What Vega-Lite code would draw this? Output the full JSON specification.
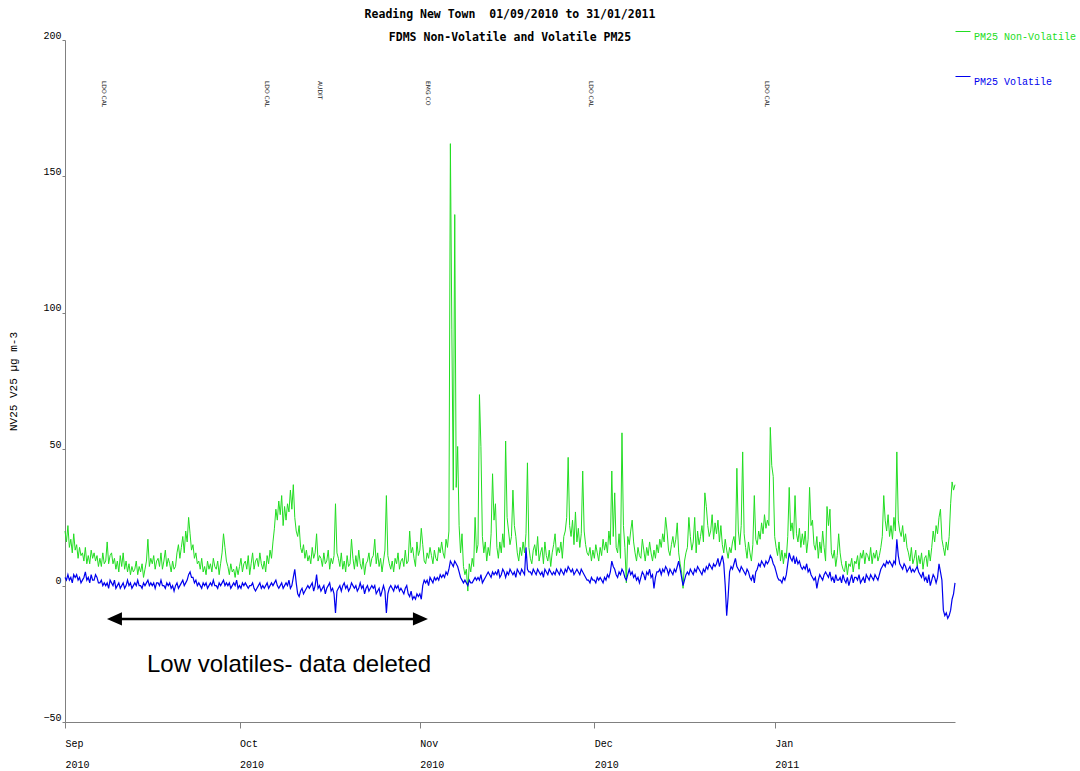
{
"$schema":"https://vega.github.io/schema/vega-lite/v6.json",
"width":890,"height":682,
"autosize":{"type":"none"},
"padding":{"left":65,"top":40,"right":125,"bottom":49},
"background":"white",
"config":{"view":{"stroke":null},"font":"Liberation Mono"},
"title":{"text":"Reading New Town\u00a0 01/09/2010 to 31/01/2011","subtitle":"FDMS Non-Volatile and Volatile PM25","anchor":"middle","frame":"group","font":"DejaVu Sans Mono","fontSize":11.5,"fontWeight":"bold","color":"#000000","subtitleFont":"DejaVu Sans Mono","subtitleFontSize":11.5,"subtitleFontWeight":"bold","subtitleColor":"#000000","subtitlePadding":12,"offset":-20},
"datasets":{
"pm":[
{"d":0,"n":20,"v":3},{"d":0.25,"n":16,"v":2},{"d":0.5,"n":22,"v":4},{"d":0.75,"n":14,"v":2},
{"d":1,"n":17,"v":3},{"d":1.25,"n":12,"v":1},{"d":1.5,"n":19,"v":4},{"d":1.75,"n":13,"v":3},
{"d":2,"n":15,"v":4},{"d":2.25,"n":10,"v":2},{"d":2.5,"n":14,"v":3},{"d":2.75,"n":11,"v":1},
{"d":3,"n":12,"v":2},{"d":3.25,"n":9,"v":3},{"d":3.5,"n":14,"v":5},{"d":3.75,"n":8,"v":2},
{"d":4,"n":11,"v":3},{"d":4.25,"n":8,"v":1},{"d":4.5,"n":13,"v":4},{"d":4.75,"n":10,"v":2},
{"d":5,"n":12,"v":2},{"d":5.25,"n":9,"v":4},{"d":5.5,"n":11,"v":3},{"d":5.75,"n":7,"v":1},
{"d":6,"n":10,"v":1},{"d":6.25,"n":7,"v":2},{"d":6.5,"n":12,"v":0},{"d":6.75,"n":8,"v":1},
{"d":7,"n":9,"v":0},{"d":7.25,"n":16,"v":1},{"d":7.5,"n":8,"v":-1},{"d":7.75,"n":11,"v":2},
{"d":8,"n":12,"v":1},{"d":8.25,"n":8,"v":0},{"d":8.5,"n":10,"v":2},{"d":8.75,"n":6,"v":-1},
{"d":9,"n":9,"v":0},{"d":9.25,"n":5,"v":1},{"d":9.5,"n":11,"v":-1},{"d":9.75,"n":7,"v":0},
{"d":10,"n":12,"v":1},{"d":10.25,"n":6,"v":-1},{"d":10.5,"n":9,"v":0},{"d":10.75,"n":5,"v":2},
{"d":11,"n":8,"v":0},{"d":11.25,"n":4,"v":1},{"d":11.5,"n":7,"v":-1},{"d":11.75,"n":5,"v":0},
{"d":12,"n":6,"v":1},{"d":12.25,"n":9,"v":0},{"d":12.5,"n":4,"v":2},{"d":12.75,"n":7,"v":0},
{"d":13,"n":5,"v":0},{"d":13.25,"n":8,"v":-1},{"d":13.5,"n":3,"v":1},{"d":13.75,"n":6,"v":0},
{"d":14,"n":9,"v":1},{"d":14.25,"n":17,"v":2},{"d":14.5,"n":7,"v":0},{"d":14.75,"n":10,"v":1},
{"d":15,"n":8,"v":0},{"d":15.25,"n":11,"v":1},{"d":15.5,"n":6,"v":-1},{"d":15.75,"n":9,"v":1},
{"d":16,"n":10,"v":1},{"d":16.25,"n":7,"v":0},{"d":16.5,"n":12,"v":2},{"d":16.75,"n":6,"v":0},
{"d":17,"n":9,"v":0},{"d":17.25,"n":13,"v":-1},{"d":17.5,"n":7,"v":1},{"d":17.75,"n":10,"v":0},
{"d":18,"n":8,"v":1},{"d":18.25,"n":5,"v":-1},{"d":18.5,"n":9,"v":0},{"d":18.75,"n":6,"v":-2},
{"d":19,"n":7,"v":0},{"d":19.25,"n":12,"v":1},{"d":19.5,"n":15,"v":-1},{"d":19.75,"n":10,"v":0},
{"d":20,"n":14,"v":1},{"d":20.25,"n":18,"v":2},{"d":20.5,"n":12,"v":0},{"d":20.75,"n":20,"v":1},
{"d":21,"n":16,"v":2},{"d":21.25,"n":25,"v":4},{"d":21.5,"n":19,"v":5},{"d":21.75,"n":13,"v":3},
{"d":22,"n":15,"v":3},{"d":22.25,"n":10,"v":1},{"d":22.5,"n":12,"v":2},{"d":22.75,"n":8,"v":0},
{"d":23,"n":9,"v":1},{"d":23.25,"n":6,"v":0},{"d":23.5,"n":10,"v":-1},{"d":23.75,"n":5,"v":1},
{"d":24,"n":7,"v":0},{"d":24.25,"n":4,"v":1},{"d":24.5,"n":9,"v":-1},{"d":24.75,"n":6,"v":0},
{"d":25,"n":8,"v":1},{"d":25.25,"n":5,"v":0},{"d":25.5,"n":10,"v":2},{"d":25.75,"n":7,"v":0},
{"d":26,"n":6,"v":0},{"d":26.25,"n":9,"v":-1},{"d":26.5,"n":4,"v":1},{"d":26.75,"n":8,"v":0},
{"d":27,"n":12,"v":1},{"d":27.25,"n":19,"v":2},{"d":27.5,"n":14,"v":0},{"d":27.75,"n":9,"v":1},
{"d":28,"n":7,"v":0},{"d":28.25,"n":4,"v":1},{"d":28.5,"n":8,"v":-1},{"d":28.75,"n":5,"v":0},
{"d":29,"n":6,"v":1},{"d":29.25,"n":3,"v":0},{"d":29.5,"n":7,"v":2},{"d":29.75,"n":4,"v":-1},
{"d":30,"n":7,"v":0},{"d":30.25,"n":10,"v":-1},{"d":30.5,"n":5,"v":1},{"d":30.75,"n":8,"v":0},
{"d":31,"n":9,"v":1},{"d":31.25,"n":6,"v":0},{"d":31.5,"n":11,"v":-1},{"d":31.75,"n":4,"v":0},
{"d":32,"n":8,"v":0},{"d":32.25,"n":12,"v":1},{"d":32.5,"n":6,"v":-1},{"d":32.75,"n":9,"v":-2},
{"d":33,"n":10,"v":-1},{"d":33.25,"n":7,"v":0},{"d":33.5,"n":12,"v":1},{"d":33.75,"n":8,"v":-1},
{"d":34,"n":6,"v":0},{"d":34.25,"n":9,"v":-1},{"d":34.5,"n":5,"v":0},{"d":34.75,"n":11,"v":1},
{"d":35,"n":8,"v":-1},{"d":35.25,"n":13,"v":0},{"d":35.5,"n":10,"v":1},{"d":35.75,"n":16,"v":0},
{"d":36,"n":21,"v":1},{"d":36.25,"n":28,"v":2},{"d":36.5,"n":24,"v":0},{"d":36.75,"n":31,"v":-1},
{"d":37,"n":26,"v":0},{"d":37.25,"n":33,"v":1},{"d":37.5,"n":22,"v":-1},{"d":37.75,"n":29,"v":0},
{"d":38,"n":24,"v":1},{"d":38.25,"n":30,"v":0},{"d":38.5,"n":27,"v":2},{"d":38.75,"n":35,"v":-1},
{"d":39,"n":28,"v":0},{"d":39.25,"n":37,"v":3},{"d":39.5,"n":25,"v":6},{"d":39.75,"n":20,"v":1},
{"d":40,"n":18,"v":-3},{"d":40.25,"n":22,"v":-4},{"d":40.5,"n":14,"v":-2},{"d":40.75,"n":12,"v":-1},
{"d":41,"n":15,"v":-3},{"d":41.25,"n":10,"v":-2},{"d":41.5,"n":13,"v":-1},{"d":41.75,"n":9,"v":0},
{"d":42,"n":11,"v":-1},{"d":42.25,"n":8,"v":0},{"d":42.5,"n":14,"v":1},{"d":42.75,"n":10,"v":-2},
{"d":43,"n":12,"v":0},{"d":43.25,"n":19,"v":4},{"d":43.5,"n":9,"v":-1},{"d":43.75,"n":11,"v":0},
{"d":44,"n":10,"v":-2},{"d":44.25,"n":7,"v":-1},{"d":44.5,"n":12,"v":0},{"d":44.75,"n":8,"v":-3},
{"d":45,"n":9,"v":-1},{"d":45.25,"n":13,"v":0},{"d":45.5,"n":6,"v":1},{"d":45.75,"n":10,"v":-2},
{"d":46,"n":8,"v":-1},{"d":46.25,"n":11,"v":-3},{"d":46.5,"n":30,"v":-10},{"d":46.75,"n":12,"v":-2},
{"d":47,"n":10,"v":-1},{"d":47.25,"n":7,"v":0},{"d":47.5,"n":12,"v":-2},{"d":47.75,"n":6,"v":0},
{"d":48,"n":9,"v":1},{"d":48.25,"n":5,"v":-1},{"d":48.5,"n":11,"v":0},{"d":48.75,"n":7,"v":-2},
{"d":49,"n":8,"v":-1},{"d":49.25,"n":17,"v":1},{"d":49.5,"n":10,"v":0},{"d":49.75,"n":6,"v":-1},
{"d":50,"n":11,"v":0},{"d":50.25,"n":7,"v":-2},{"d":50.5,"n":13,"v":-1},{"d":50.75,"n":8,"v":1},
{"d":51,"n":6,"v":-1},{"d":51.25,"n":10,"v":0},{"d":51.5,"n":4,"v":-3},{"d":51.75,"n":8,"v":-1},
{"d":52,"n":9,"v":0},{"d":52.25,"n":12,"v":-2},{"d":52.5,"n":7,"v":-1},{"d":52.75,"n":10,"v":0},
{"d":53,"n":11,"v":-1},{"d":53.25,"n":17,"v":0},{"d":53.5,"n":8,"v":-3},{"d":53.75,"n":12,"v":-2},
{"d":54,"n":7,"v":-1},{"d":54.25,"n":10,"v":-4},{"d":54.5,"n":5,"v":-2},{"d":54.75,"n":9,"v":0},
{"d":55,"n":13,"v":-2},{"d":55.25,"n":33,"v":-10},{"d":55.5,"n":11,"v":-3},{"d":55.75,"n":8,"v":-1},
{"d":56,"n":6,"v":0},{"d":56.25,"n":9,"v":-1},{"d":56.5,"n":5,"v":-2},{"d":56.75,"n":10,"v":0},
{"d":57,"n":8,"v":-1},{"d":57.25,"n":12,"v":0},{"d":57.5,"n":6,"v":-2},{"d":57.75,"n":9,"v":-1},
{"d":58,"n":10,"v":-2},{"d":58.25,"n":7,"v":-3},{"d":58.5,"n":13,"v":-1},{"d":58.75,"n":8,"v":0},
{"d":59,"n":9,"v":-3},{"d":59.25,"n":20,"v":-4},{"d":59.5,"n":12,"v":-2},{"d":59.75,"n":14,"v":-5},
{"d":60,"n":10,"v":-4},{"d":60.25,"n":7,"v":-5},{"d":60.5,"n":16,"v":-3},{"d":60.75,"n":11,"v":-4},
{"d":61,"n":13,"v":-3},{"d":61.25,"n":21,"v":-5},{"d":61.5,"n":15,"v":0},{"d":61.75,"n":9,"v":2},
{"d":62,"n":8,"v":1},{"d":62.25,"n":12,"v":2},{"d":62.5,"n":10,"v":0},{"d":62.75,"n":14,"v":3},
{"d":63,"n":11,"v":2},{"d":63.25,"n":8,"v":1},{"d":63.5,"n":13,"v":3},{"d":63.75,"n":10,"v":2},
{"d":64,"n":9,"v":3},{"d":64.25,"n":14,"v":2},{"d":64.5,"n":12,"v":4},{"d":64.75,"n":16,"v":3},
{"d":65,"n":12,"v":4},{"d":65.25,"n":10,"v":3},{"d":65.5,"n":17,"v":5},{"d":65.75,"n":14,"v":4},
{"d":66,"n":20,"v":6},{"d":66.25,"n":162,"v":9},{"d":66.5,"n":94,"v":8},{"d":66.75,"n":35,"v":7},
{"d":67,"n":136,"v":9},{"d":67.25,"n":36,"v":8},{"d":67.5,"n":51,"v":7},{"d":67.75,"n":22,"v":5},
{"d":68,"n":12,"v":3},{"d":68.25,"n":19,"v":2},{"d":68.5,"n":7,"v":1},{"d":68.75,"n":4,"v":2},
{"d":69,"n":6,"v":1},{"d":69.25,"n":-2,"v":0},{"d":69.5,"n":8,"v":2},{"d":69.75,"n":5,"v":1},
{"d":70,"n":10,"v":1},{"d":70.25,"n":7,"v":2},{"d":70.5,"n":25,"v":3},{"d":70.75,"n":12,"v":2},
{"d":71,"n":15,"v":3},{"d":71.25,"n":70,"v":2},{"d":71.5,"n":51,"v":4},{"d":71.75,"n":18,"v":1},
{"d":72,"n":12,"v":2},{"d":72.25,"n":16,"v":3},{"d":72.5,"n":9,"v":4},{"d":72.75,"n":14,"v":5},
{"d":73,"n":11,"v":4},{"d":73.25,"n":19,"v":3},{"d":73.5,"n":41,"v":5},{"d":73.75,"n":24,"v":4},
{"d":74,"n":30,"v":5},{"d":74.25,"n":14,"v":4},{"d":74.5,"n":10,"v":6},{"d":74.75,"n":16,"v":3},
{"d":75,"n":12,"v":4},{"d":75.25,"n":19,"v":6},{"d":75.5,"n":14,"v":5},{"d":75.75,"n":53,"v":3},
{"d":76,"n":25,"v":5},{"d":76.25,"n":20,"v":4},{"d":76.5,"n":15,"v":6},{"d":76.75,"n":18,"v":5},
{"d":77,"n":35,"v":4},{"d":77.25,"n":22,"v":5},{"d":77.5,"n":18,"v":3},{"d":77.75,"n":12,"v":6},
{"d":78,"n":9,"v":5},{"d":78.25,"n":14,"v":4},{"d":78.5,"n":11,"v":6},{"d":78.75,"n":16,"v":5},
{"d":79,"n":12,"v":4},{"d":79.25,"n":19,"v":14},{"d":79.5,"n":45,"v":6},{"d":79.75,"n":14,"v":5},
{"d":80,"n":10,"v":5},{"d":80.25,"n":8,"v":4},{"d":80.5,"n":13,"v":6},{"d":80.75,"n":15,"v":5},
{"d":81,"n":11,"v":4},{"d":81.25,"n":18,"v":6},{"d":81.5,"n":9,"v":5},{"d":81.75,"n":12,"v":4},
{"d":82,"n":14,"v":5},{"d":82.25,"n":8,"v":3},{"d":82.5,"n":16,"v":6},{"d":82.75,"n":11,"v":5},
{"d":83,"n":9,"v":4},{"d":83.25,"n":13,"v":6},{"d":83.5,"n":7,"v":5},{"d":83.75,"n":12,"v":4},
{"d":84,"n":15,"v":5},{"d":84.25,"n":19,"v":4},{"d":84.5,"n":11,"v":6},{"d":84.75,"n":14,"v":5},
{"d":85,"n":12,"v":4},{"d":85.25,"n":16,"v":6},{"d":85.5,"n":10,"v":5},{"d":85.75,"n":18,"v":4},
{"d":86,"n":20,"v":6},{"d":86.25,"n":25,"v":5},{"d":86.5,"n":47,"v":7},{"d":86.75,"n":22,"v":6},
{"d":87,"n":18,"v":5},{"d":87.25,"n":24,"v":6},{"d":87.5,"n":15,"v":4},{"d":87.75,"n":27,"v":5},
{"d":88,"n":16,"v":6},{"d":88.25,"n":21,"v":5},{"d":88.5,"n":14,"v":4},{"d":88.75,"n":19,"v":6},
{"d":89,"n":42,"v":5},{"d":89.25,"n":20,"v":4},{"d":89.5,"n":15,"v":3},{"d":89.75,"n":12,"v":2},
{"d":90,"n":11,"v":2},{"d":90.25,"n":14,"v":1},{"d":90.5,"n":9,"v":3},{"d":90.75,"n":13,"v":2},
{"d":91,"n":10,"v":2},{"d":91.25,"n":15,"v":1},{"d":91.5,"n":12,"v":3},{"d":91.75,"n":9,"v":2},
{"d":92,"n":14,"v":3},{"d":92.25,"n":11,"v":2},{"d":92.5,"n":17,"v":1},{"d":92.75,"n":13,"v":3},
{"d":93,"n":16,"v":2},{"d":93.25,"n":12,"v":4},{"d":93.5,"n":20,"v":3},{"d":93.75,"n":15,"v":5},
{"d":94,"n":42,"v":9},{"d":94.25,"n":18,"v":7},{"d":94.5,"n":34,"v":6},{"d":94.75,"n":14,"v":4},
{"d":95,"n":12,"v":3},{"d":95.25,"n":19,"v":5},{"d":95.5,"n":10,"v":4},{"d":95.75,"n":56,"v":6},
{"d":96,"n":22,"v":5},{"d":96.25,"n":14,"v":3},{"d":96.5,"n":1,"v":2},{"d":96.75,"n":18,"v":4},
{"d":97,"n":15,"v":6},{"d":97.25,"n":20,"v":4},{"d":97.5,"n":24,"v":5},{"d":97.75,"n":16,"v":3},
{"d":98,"n":12,"v":4},{"d":98.25,"n":9,"v":2},{"d":98.5,"n":14,"v":3},{"d":98.75,"n":11,"v":1},
{"d":99,"n":10,"v":3},{"d":99.25,"n":17,"v":5},{"d":99.5,"n":13,"v":4},{"d":99.75,"n":9,"v":2},
{"d":100,"n":14,"v":5},{"d":100.25,"n":11,"v":4},{"d":100.5,"n":16,"v":6},{"d":100.75,"n":12,"v":3},
{"d":101,"n":9,"v":4},{"d":101.25,"n":13,"v":-1},{"d":101.5,"n":10,"v":3},{"d":101.75,"n":15,"v":5},
{"d":102,"n":12,"v":5},{"d":102.25,"n":17,"v":6},{"d":102.5,"n":14,"v":4},{"d":102.75,"n":19,"v":6},
{"d":103,"n":16,"v":5},{"d":103.25,"n":25,"v":7},{"d":103.5,"n":20,"v":6},{"d":103.75,"n":13,"v":4},
{"d":104,"n":11,"v":6},{"d":104.25,"n":15,"v":5},{"d":104.5,"n":18,"v":4},{"d":104.75,"n":14,"v":6},
{"d":105,"n":17,"v":5},{"d":105.25,"n":23,"v":7},{"d":105.5,"n":12,"v":9},{"d":105.75,"n":8,"v":6},
{"d":106,"n":5,"v":3},{"d":106.25,"n":-1,"v":0},{"d":106.5,"n":9,"v":2},{"d":106.75,"n":12,"v":4},
{"d":107,"n":14,"v":5},{"d":107.25,"n":25,"v":4},{"d":107.5,"n":18,"v":6},{"d":107.75,"n":13,"v":5},
{"d":108,"n":16,"v":4},{"d":108.25,"n":25,"v":6},{"d":108.5,"n":12,"v":5},{"d":108.75,"n":20,"v":7},
{"d":109,"n":15,"v":6},{"d":109.25,"n":18,"v":5},{"d":109.5,"n":22,"v":4},{"d":109.75,"n":16,"v":6},
{"d":110,"n":34,"v":5},{"d":110.25,"n":29,"v":7},{"d":110.5,"n":22,"v":6},{"d":110.75,"n":18,"v":8},
{"d":111,"n":20,"v":7},{"d":111.25,"n":26,"v":6},{"d":111.5,"n":17,"v":8},{"d":111.75,"n":23,"v":7},
{"d":112,"n":19,"v":8},{"d":112.25,"n":24,"v":10},{"d":112.5,"n":16,"v":7},{"d":112.75,"n":22,"v":9},
{"d":113,"n":15,"v":11},{"d":113.25,"n":12,"v":8},{"d":113.5,"n":17,"v":0},{"d":113.75,"n":13,"v":-11},
{"d":114,"n":10,"v":-4},{"d":114.25,"n":14,"v":5},{"d":114.5,"n":12,"v":7},{"d":114.75,"n":16,"v":6},
{"d":115,"n":18,"v":8},{"d":115.25,"n":13,"v":10},{"d":115.5,"n":43,"v":7},{"d":115.75,"n":20,"v":6},
{"d":116,"n":15,"v":5},{"d":116.25,"n":22,"v":7},{"d":116.5,"n":49,"v":6},{"d":116.75,"n":19,"v":5},
{"d":117,"n":14,"v":4},{"d":117.25,"n":10,"v":6},{"d":117.5,"n":16,"v":5},{"d":117.75,"n":12,"v":3},
{"d":118,"n":9,"v":2},{"d":118.25,"n":15,"v":4},{"d":118.5,"n":33,"v":1},{"d":118.75,"n":17,"v":5},
{"d":119,"n":15,"v":6},{"d":119.25,"n":20,"v":8},{"d":119.5,"n":17,"v":7},{"d":119.75,"n":23,"v":9},
{"d":120,"n":19,"v":8},{"d":120.25,"n":26,"v":7},{"d":120.5,"n":21,"v":9},{"d":120.75,"n":24,"v":8},
{"d":121,"n":22,"v":9},{"d":121.25,"n":58,"v":11},{"d":121.5,"n":44,"v":10},{"d":121.75,"n":40,"v":8},
{"d":122,"n":18,"v":7},{"d":122.25,"n":14,"v":5},{"d":122.5,"n":11,"v":3},{"d":122.75,"n":16,"v":2},
{"d":123,"n":9,"v":2},{"d":123.25,"n":13,"v":1},{"d":123.5,"n":8,"v":3},{"d":123.75,"n":12,"v":2},
{"d":124,"n":10,"v":4},{"d":124.25,"n":18,"v":8},{"d":124.5,"n":36,"v":12},{"d":124.75,"n":20,"v":10},
{"d":125,"n":23,"v":9},{"d":125.25,"n":17,"v":11},{"d":125.5,"n":33,"v":8},{"d":125.75,"n":19,"v":10},
{"d":126,"n":16,"v":8},{"d":126.25,"n":21,"v":9},{"d":126.5,"n":14,"v":7},{"d":126.75,"n":19,"v":6},
{"d":127,"n":15,"v":7},{"d":127.25,"n":20,"v":6},{"d":127.5,"n":12,"v":8},{"d":127.75,"n":17,"v":5},
{"d":128,"n":36,"v":6},{"d":128.25,"n":22,"v":4},{"d":128.5,"n":24,"v":3},{"d":128.75,"n":15,"v":2},
{"d":129,"n":13,"v":3},{"d":129.25,"n":18,"v":-1},{"d":129.5,"n":10,"v":2},{"d":129.75,"n":16,"v":4},
{"d":130,"n":12,"v":3},{"d":130.25,"n":20,"v":2},{"d":130.5,"n":14,"v":4},{"d":130.75,"n":9,"v":5},
{"d":131,"n":29,"v":4},{"d":131.25,"n":22,"v":3},{"d":131.5,"n":28,"v":5},{"d":131.75,"n":12,"v":2},
{"d":132,"n":10,"v":3},{"d":132.25,"n":13,"v":1},{"d":132.5,"n":7,"v":4},{"d":132.75,"n":11,"v":2},
{"d":133,"n":19,"v":2},{"d":133.25,"n":12,"v":3},{"d":133.5,"n":8,"v":1},{"d":133.75,"n":6,"v":4},
{"d":134,"n":5,"v":2},{"d":134.25,"n":9,"v":1},{"d":134.5,"n":4,"v":3},{"d":134.75,"n":8,"v":0},
{"d":135,"n":7,"v":2},{"d":135.25,"n":10,"v":4},{"d":135.5,"n":5,"v":1},{"d":135.75,"n":9,"v":3},
{"d":136,"n":8,"v":3},{"d":136.25,"n":11,"v":2},{"d":136.5,"n":6,"v":4},{"d":136.75,"n":12,"v":1},
{"d":137,"n":10,"v":2},{"d":137.25,"n":13,"v":3},{"d":137.5,"n":8,"v":1},{"d":137.75,"n":12,"v":4},
{"d":138,"n":11,"v":3},{"d":138.25,"n":9,"v":2},{"d":138.5,"n":14,"v":4},{"d":138.75,"n":8,"v":3},
{"d":139,"n":12,"v":2},{"d":139.25,"n":10,"v":4},{"d":139.5,"n":13,"v":3},{"d":139.75,"n":9,"v":2},
{"d":140,"n":11,"v":4},{"d":140.25,"n":14,"v":6},{"d":140.5,"n":18,"v":7},{"d":140.75,"n":33,"v":8},
{"d":141,"n":24,"v":7},{"d":141.25,"n":20,"v":9},{"d":141.5,"n":26,"v":8},{"d":141.75,"n":18,"v":9},
{"d":142,"n":22,"v":8},{"d":142.25,"n":17,"v":7},{"d":142.5,"n":25,"v":9},{"d":142.75,"n":20,"v":8},
{"d":143,"n":49,"v":17},{"d":143.25,"n":24,"v":11},{"d":143.5,"n":20,"v":8},{"d":143.75,"n":18,"v":7},
{"d":144,"n":22,"v":6},{"d":144.25,"n":16,"v":8},{"d":144.5,"n":19,"v":7},{"d":144.75,"n":14,"v":5},
{"d":145,"n":12,"v":6},{"d":145.25,"n":9,"v":7},{"d":145.5,"n":14,"v":5},{"d":145.75,"n":8,"v":6},
{"d":146,"n":10,"v":5},{"d":146.25,"n":13,"v":6},{"d":146.5,"n":7,"v":7},{"d":146.75,"n":11,"v":5},
{"d":147,"n":8,"v":4},{"d":147.25,"n":12,"v":3},{"d":147.5,"n":6,"v":5},{"d":147.75,"n":10,"v":2},
{"d":148,"n":11,"v":3},{"d":148.25,"n":7,"v":1},{"d":148.5,"n":13,"v":4},{"d":148.75,"n":9,"v":0},
{"d":149,"n":14,"v":2},{"d":149.25,"n":20,"v":4},{"d":149.5,"n":16,"v":3},{"d":149.75,"n":22,"v":1},
{"d":150,"n":19,"v":3},{"d":150.25,"n":25,"v":8},{"d":150.5,"n":28,"v":5},{"d":150.75,"n":17,"v":2},
{"d":151,"n":14,"v":-9},{"d":151.25,"n":11,"v":-11},{"d":151.5,"n":16,"v":-10},{"d":151.75,"n":13,"v":-12},
{"d":152,"n":18,"v":-11},{"d":152.25,"n":30,"v":-9},{"d":152.5,"n":38,"v":-5},{"d":152.75,"n":35,"v":-3},
{"d":153,"n":37,"v":1}
],
"events":[
{"d":6.7,"y":185,"t":"LDO CAL"},{"d":34.7,"y":185,"t":"LDO CAL"},{"d":43.8,"y":185,"t":"AUDIT"},
{"d":62.4,"y":185,"t":"EMG CO"},{"d":90.4,"y":185,"t":"LDO CAL"},{"d":120.6,"y":185,"t":"LDO CAL"}
],
"arrow":[{"a":8,"b":61.5,"y":-12.2}],
"heads":[{"d":8.5,"y":-12.2,"s":"L"},{"d":61.1,"y":-12.2,"s":"R"}],
"note":[{"d":14.1,"y":-29,"t":"Low volatiles- data deleted"}]
},
"layer":[
{"data":{"name":"pm"},"mark":{"type":"line","strokeWidth":1},
 "encoding":{
  "x":{"field":"d","type":"quantitative","scale":{"domain":[0,153],"nice":false,"zero":false},
   "axis":{"title":null,"values":[0,30,61,91,122],"labelExpr":"datum.value==0?['Sep','2010']:datum.value==30?['Oct','2010']:datum.value==61?['Nov','2010']:datum.value==91?['Dec','2010']:['Jan','2011']","labelAlign":"left","labelBaseline":"top","labelLineHeight":21,"labelPadding":10,"tickSize":6,"tickColor":"#808080","domainColor":"#808080","labelFont":"Liberation Mono","labelFontSize":10,"labelColor":"#000000","grid":false,"labelFlush":false,"labelOverlap":false}},
  "y":{"field":"n","type":"quantitative","scale":{"domain":[-50,200],"nice":false,"zero":false},
   "axis":{"title":"NV25 V25 µg m-3","values":[-50,0,50,100,150,200],"tickSize":3,"labelPadding":1,"labelBaseline":"bottom","labelFont":"Liberation Mono","labelFontSize":10,"labelColor":"#000000","grid":false,"domainColor":"#808080","tickColor":"#808080","titleFont":"Liberation Mono","titleFontSize":11,"titleFontWeight":"normal","titleColor":"#000000","titleX":-52,"titleY":341,"titleAngle":-90,"titleBaseline":"middle","titleAlign":"center","labelFlush":false}},
  "color":{"datum":"PM25 Non-Volatile","type":"nominal","scale":{"domain":["PM25 Non-Volatile","PM25 Volatile"],"range":["#22dd22","#0000ee"]},
   "legend":{"orient":"none","legendX":890,"legendY":-16.5,"title":null,"symbolType":"stroke","symbolSize":225,"symbolStrokeWidth":1,"labelFont":"Liberation Mono","labelFontSize":10,"labelOffset":3,"rowPadding":27,"labelBaseline":"top","labelLimit":300,"padding":0,
    "encode":{"labels":{"update":{"fill":{"signal":"datum.value === 'PM25 Volatile' ? '#0000ee' : '#22dd22'"}}}}}}
 }},
{"mark":{"type":"rule","strokeDash":[12,6],"color":"#333333","strokeWidth":1},"encoding":{"y":{"datum":0,"type":"quantitative"}}},
{"data":{"name":"pm"},"mark":{"type":"line","strokeWidth":1.2},
 "encoding":{
  "x":{"field":"d","type":"quantitative"},
  "y":{"field":"v","type":"quantitative","axis":{"title":"NV25 V25 µg m-3"}},
  "color":{"datum":"PM25 Volatile","type":"nominal"}
 }},
{"data":{"name":"events"},"mark":{"type":"text","angle":90,"align":"left","baseline":"middle","font":"DejaVu Sans","fontSize":6,"color":"#222222"},
 "encoding":{"x":{"field":"d","type":"quantitative"},"y":{"field":"y","type":"quantitative"},"text":{"field":"t"}}},
{"data":{"name":"arrow"},"mark":{"type":"rule","color":"#000000","strokeWidth":2.5},
 "encoding":{"x":{"field":"a","type":"quantitative"},"x2":{"field":"b"},"y":{"field":"y","type":"quantitative"}}},
{"data":{"name":"heads"},"mark":{"type":"point","filled":true,"opacity":1,"color":"#000000","size":225,"strokeWidth":0},
 "encoding":{"x":{"field":"d","type":"quantitative"},"y":{"field":"y","type":"quantitative"},
  "shape":{"field":"s","type":"nominal","scale":{"domain":["L","R"],"range":["M-1,0L1,-0.87L1,0.87Z","M1,0L-1,-0.87L-1,0.87Z"]},"legend":null}}},
{"data":{"name":"note"},"mark":{"type":"text","align":"left","baseline":"middle","font":"Liberation Sans","fontSize":24,"color":"#000000"},
 "encoding":{"x":{"field":"d","type":"quantitative"},"y":{"field":"y","type":"quantitative"},"text":{"field":"t"}}}
]
}
